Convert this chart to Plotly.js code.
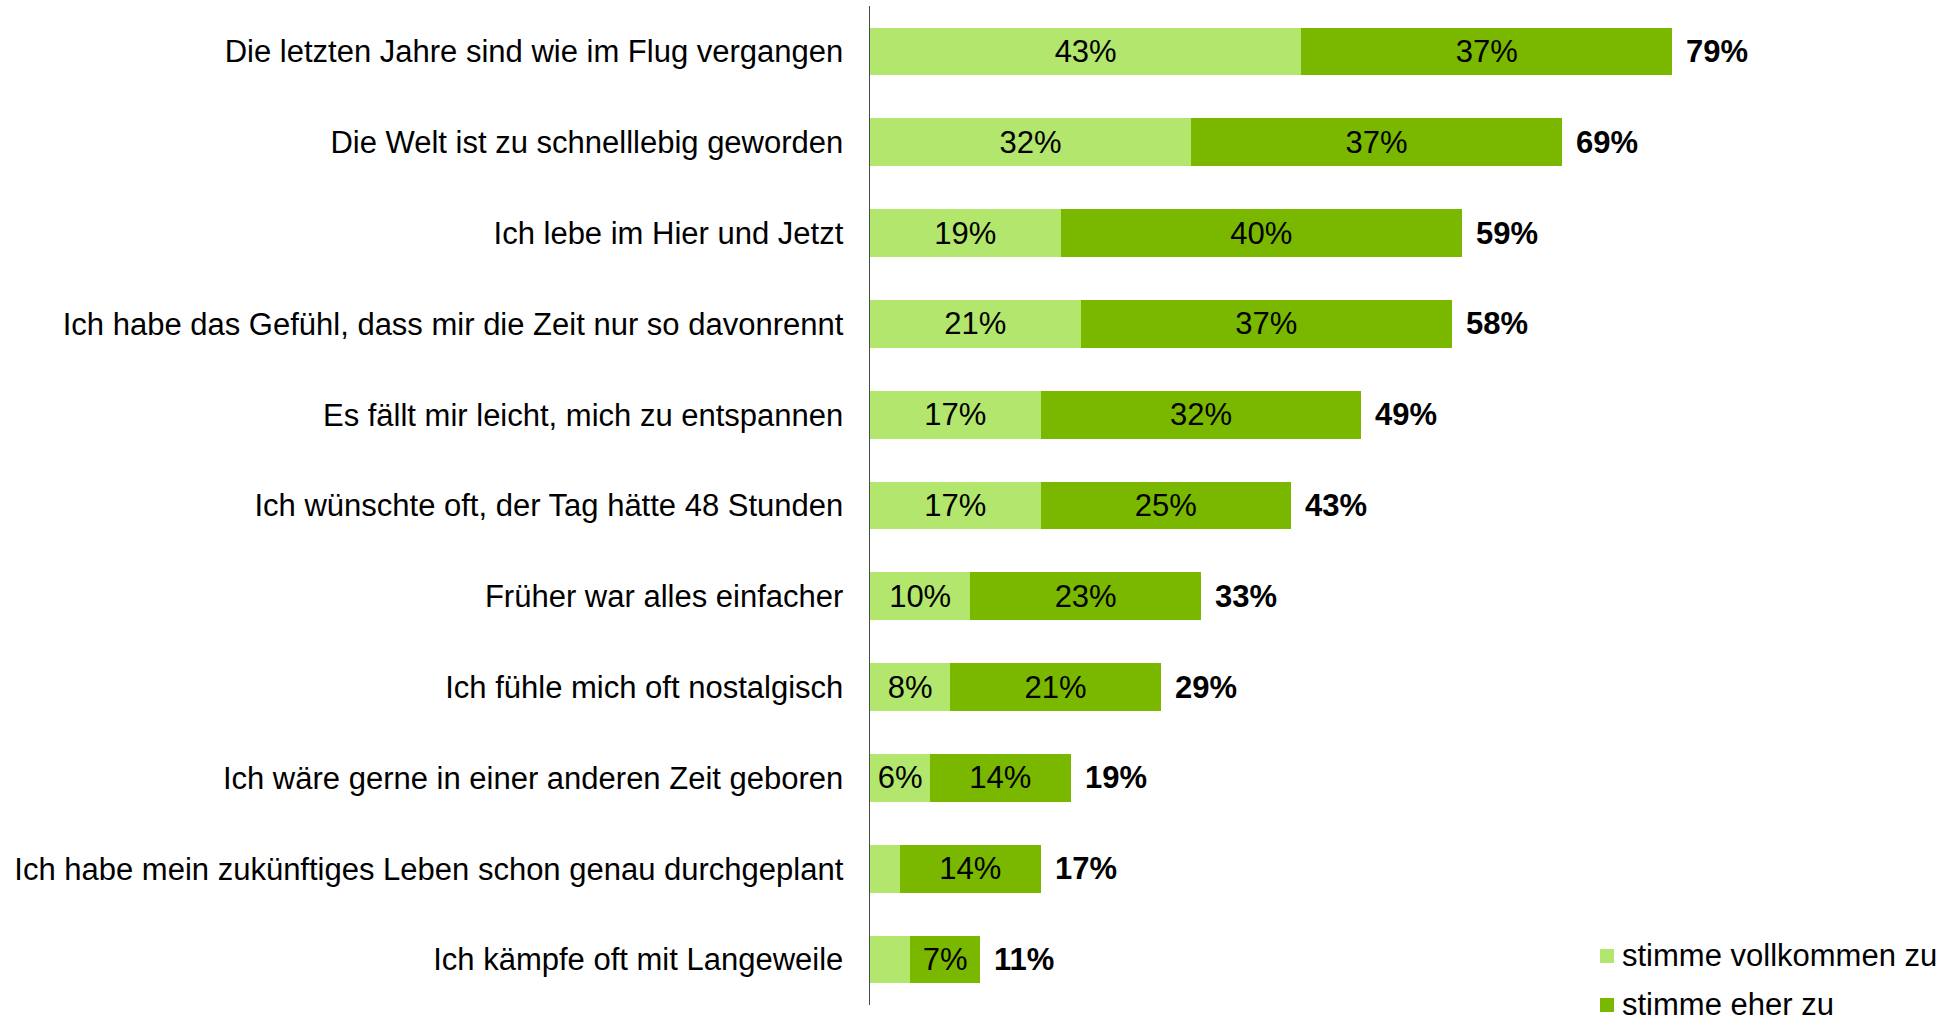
<!DOCTYPE html>
<html>
<head>
<meta charset="utf-8">
<script src="https://cdn.plot.ly/plotly-3.0.1.min.js"></script>
<style>html,body{margin:0;padding:0;background:#fff;}#chart{width:1949px;height:1022px;}</style>
</head>
<body>
<div id="chart"></div>
<script>
var categories = [
  "Die letzten Jahre sind wie im Flug vergangen",
  "Die Welt ist zu schnelllebig geworden",
  "Ich lebe im Hier und Jetzt",
  "Ich habe das Gefühl, dass mir die Zeit nur so davonrennt",
  "Es fällt mir leicht, mich zu entspannen",
  "Ich wünschte oft, der Tag hätte 48 Stunden",
  "Früher war alles einfacher",
  "Ich fühle mich oft nostalgisch",
  "Ich wäre gerne in einer anderen Zeit geboren",
  "Ich habe mein zukünftiges Leben schon genau durchgeplant",
  "Ich kämpfe oft mit Langeweile"
];
var vollkommen = [43, 32, 19, 21, 17, 17, 10, 8, 6, 3, 4];
var vollkommenLabels = ["43%", "32%", "19%", "21%", "17%", "17%", "10%", "8%", "6%", "", ""];
var eher = [37, 37, 40, 37, 32, 25, 23, 21, 14, 14, 7];
var eherLabels = ["37%", "37%", "40%", "37%", "32%", "25%", "23%", "21%", "14%", "14%", "7%"];
var totals = [79, 69, 59, 58, 49, 43, 33, 29, 19, 17, 11];
var seriesNames = ["stimme vollkommen zu", "stimme eher zu"];
var seriesColors = ["#B2E66C", "#7AB800"];

var FONT = "Liberation Sans, Arial, sans-serif";
var FS = 31;

// plot-area geometry (pixels) used to place the hand-drawn legend
var W = 1949, H = 1022, ML = 870, MR = 76, MT = 6, MB = 17;
function px(x) { return (x - ML) / (W - ML - MR); }
function py(y) { return (H - MB - y) / (H - MT - MB); }

var traces = [
  {
    type: "bar", orientation: "h", name: seriesNames[0],
    y: categories, x: vollkommen, text: vollkommenLabels,
    textposition: "inside", insidetextanchor: "middle", constraintext: "none",
    textfont: {family: FONT, size: FS, color: "#000"},
    marker: {color: seriesColors[0]}, showlegend: false
  },
  {
    type: "bar", orientation: "h", name: seriesNames[1],
    y: categories, x: eher, text: eherLabels,
    textposition: "inside", insidetextanchor: "middle", constraintext: "none",
    textfont: {family: FONT, size: FS, color: "#000"},
    marker: {color: seriesColors[1]}, showlegend: false
  }
];

var annotations = categories.map(function (c, i) {
  return {
    x: vollkommen[i] + eher[i], y: c, xref: "x", yref: "y",
    text: "<b>" + totals[i] + "%</b>", showarrow: false,
    xanchor: "left", yanchor: "middle", xshift: 12,
    font: {family: FONT, size: FS, color: "#000"}
  };
});

// legend (manual, so it does not push the plot margins)
var legendRows = [955, 1004];
var shapes = [];
seriesNames.forEach(function (n, i) {
  var cy = legendRows[i];
  shapes.push({
    type: "rect", xref: "paper", yref: "paper",
    x0: px(1600), x1: px(1614), y0: py(cy - 6), y1: py(cy + 8),
    fillcolor: seriesColors[i], line: {width: 0}
  });
  annotations.push({
    xref: "paper", yref: "paper", x: px(1621), y: py(cy),
    xanchor: "left", yanchor: "middle", showarrow: false, borderpad: 0,
    text: n, font: {family: FONT, size: FS, color: "#000"}
  });
});

var layout = {
  width: W, height: H,
  margin: {l: ML, r: MR, t: MT, b: MB},
  paper_bgcolor: "#fff", plot_bgcolor: "#fff",
  font: {family: FONT, size: FS, color: "#000"},
  barmode: "stack", bargap: 0.475,
  showlegend: false,
  xaxis: {range: [0, 100], showgrid: false, zeroline: false, showticklabels: false, showline: false, fixedrange: true},
  yaxis: {
    autorange: "reversed", showgrid: false, zeroline: false,
    showline: true, linecolor: "#4a4a4a", linewidth: 1.5,
    ticks: "", ticklabelstandoff: 19,
    tickfont: {family: FONT, size: FS, color: "#000"}, fixedrange: true
  },
  shapes: shapes,
  annotations: annotations
};

Plotly.newPlot("chart", traces, layout, {displayModeBar: false, staticPlot: true});
</script>
</body>
</html>
